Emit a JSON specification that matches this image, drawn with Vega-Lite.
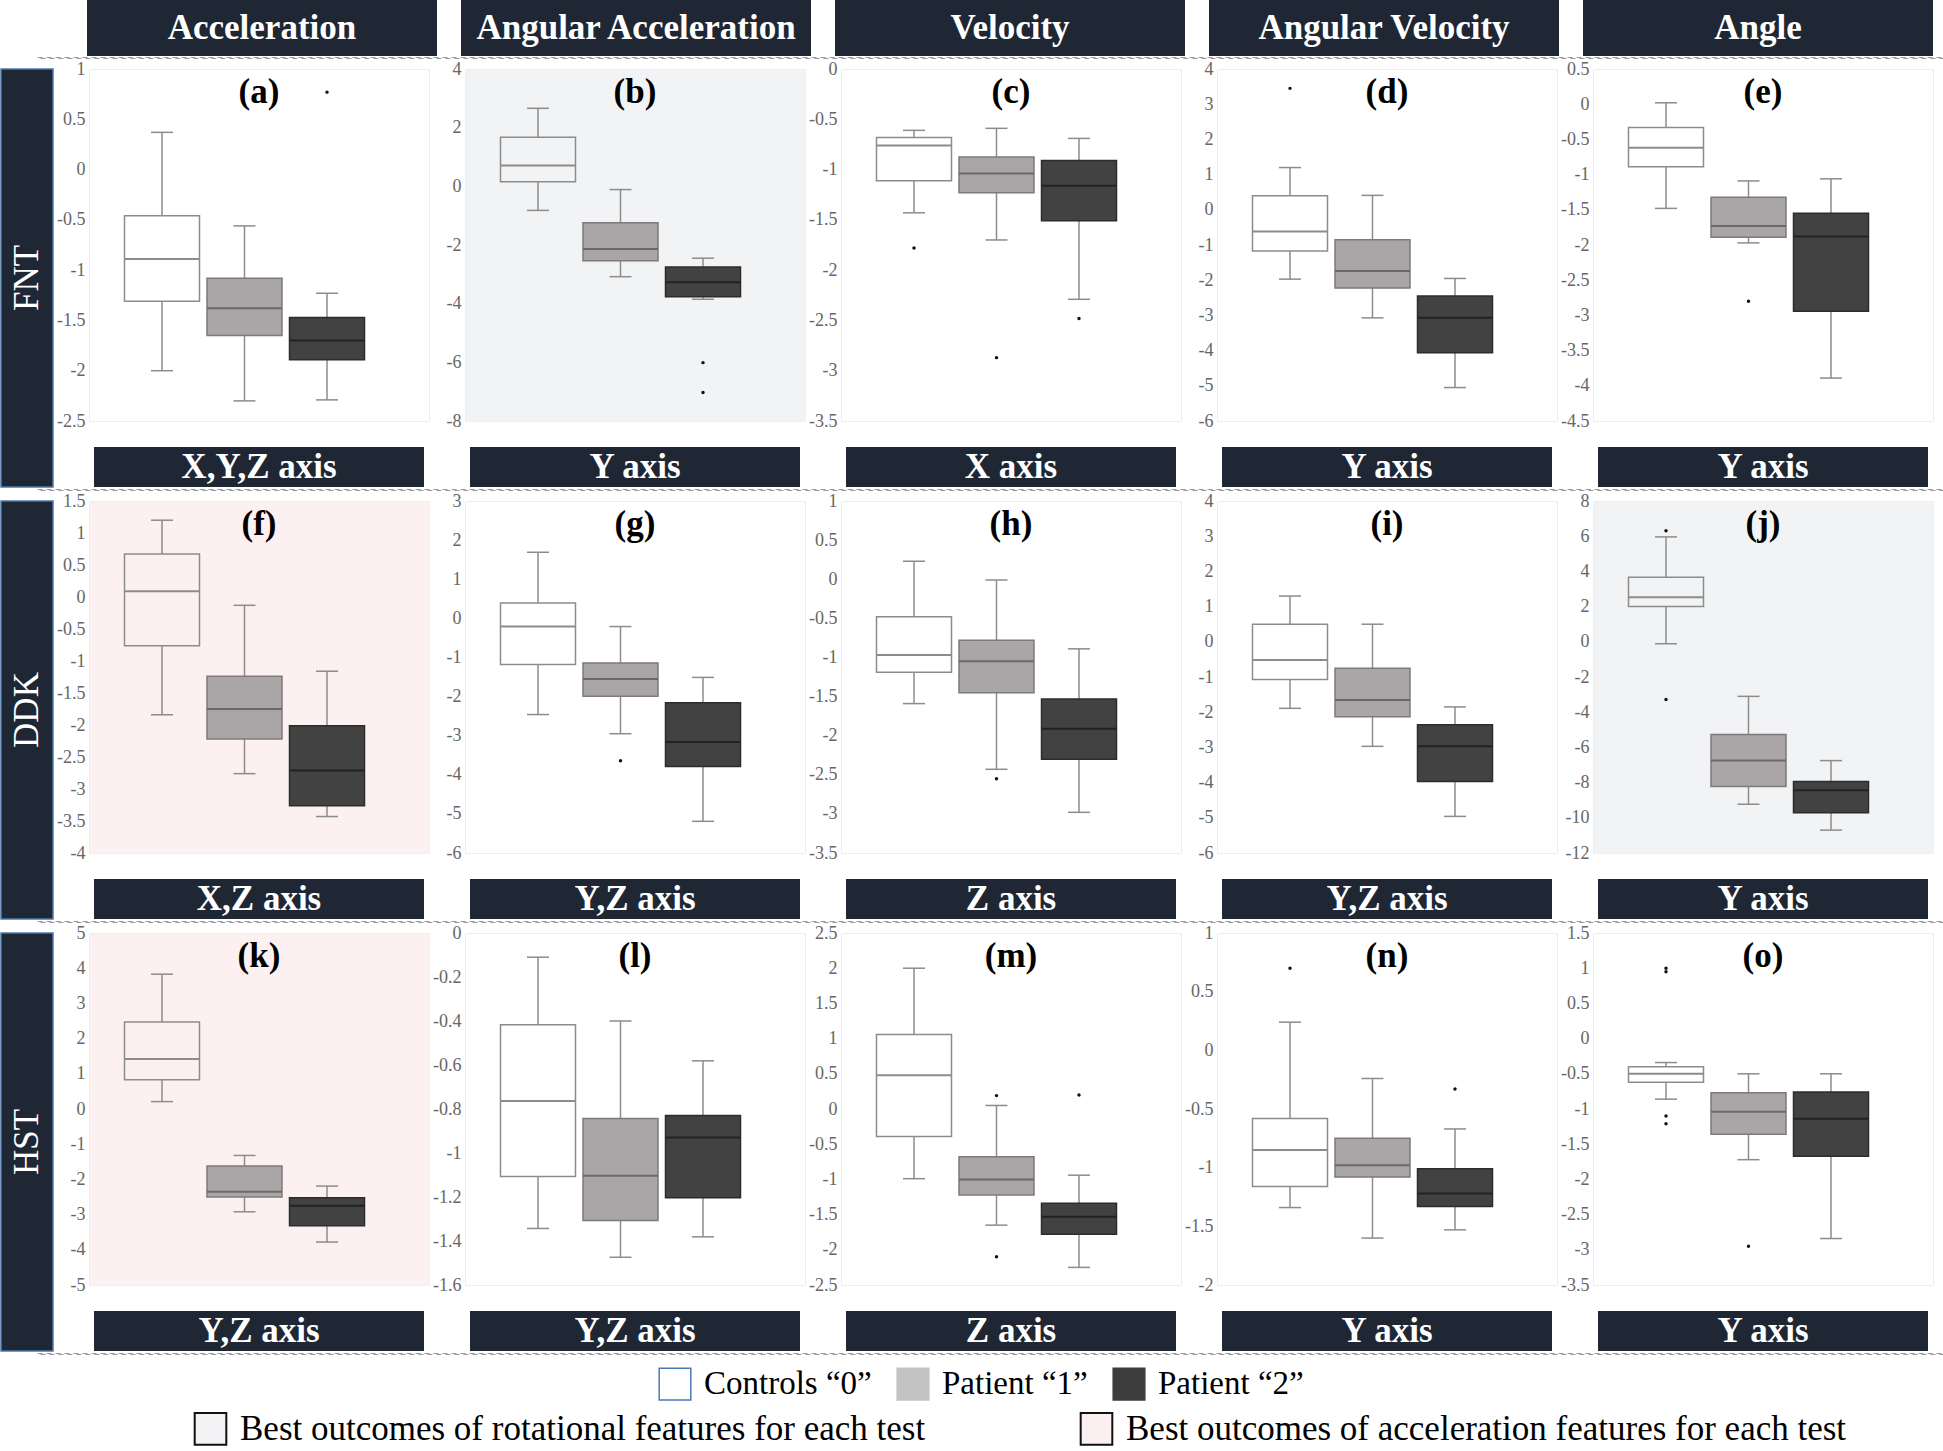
{
"$schema": "https://vega.github.io/schema/vega-lite/v6.json",
"padding": 0,
"background": "white",
"spacing": 0,
"resolve": {"scale": {"fill": "independent", "stroke": "independent", "color": "independent"}},
"config": {
 "view": {"stroke": "#eeeeee"},
 "axis": {"domain": false, "ticks": false, "grid": false, "labelFont": "Liberation Serif", "labelFontSize": 18, "labelColor": "#666666", "labelPadding": 4, "labelOverlap": false, "minExtent": 34},
 "title": {"font": "Liberation Serif", "fontSize": 35, "fontWeight": "bold", "color": "#000000", "anchor": "middle", "frame": "group", "offset": -50},
 "locale": {"number": {"decimal": ".", "thousands": ",", "grouping": [3], "currency": ["$", ""], "minus": "-"}}
},
"datasets": {
 "panels": [
  {"panel": "a", "test": "FNT", "feature": "Acceleration", "label": "X,Y,Z axis"},
  {"panel": "b", "test": "FNT", "feature": "Angular Acceleration", "label": "Y axis"},
  {"panel": "c", "test": "FNT", "feature": "Velocity", "label": "X axis"},
  {"panel": "d", "test": "FNT", "feature": "Angular Velocity", "label": "Y axis"},
  {"panel": "e", "test": "FNT", "feature": "Angle", "label": "Y axis"},
  {"panel": "f", "test": "DDK", "feature": "Acceleration", "label": "X,Z axis"},
  {"panel": "g", "test": "DDK", "feature": "Angular Acceleration", "label": "Y,Z axis"},
  {"panel": "h", "test": "DDK", "feature": "Velocity", "label": "Z axis"},
  {"panel": "i", "test": "DDK", "feature": "Angular Velocity", "label": "Y,Z axis"},
  {"panel": "j", "test": "DDK", "feature": "Angle", "label": "Y axis"},
  {"panel": "k", "test": "HST", "feature": "Acceleration", "label": "Y,Z axis"},
  {"panel": "l", "test": "HST", "feature": "Angular Acceleration", "label": "Y,Z axis"},
  {"panel": "m", "test": "HST", "feature": "Velocity", "label": "Z axis"},
  {"panel": "n", "test": "HST", "feature": "Angular Velocity", "label": "Y axis"},
  {"panel": "o", "test": "HST", "feature": "Angle", "label": "Y axis"}
 ],
 "highlights": [
  {"item": "Best outcomes of rotational features for each test"},
  {"item": "Best outcomes of acceleration features for each test"}
 ],
 "boxes": [
  {"panel": "a", "group": "Controls “0”", "min": -2.0, "q1": -1.31, "median": -0.89, "q3": -0.46, "max": 0.37},
  {"panel": "a", "group": "Patient “1”", "min": -2.3, "q1": -1.65, "median": -1.38, "q3": -1.08, "max": -0.56},
  {"panel": "a", "group": "Patient “2”", "min": -2.29, "q1": -1.89, "median": -1.7, "q3": -1.47, "max": -1.23},
  {"panel": "b", "group": "Controls “0”", "min": -0.82, "q1": 0.16, "median": 0.71, "q3": 1.67, "max": 2.66},
  {"panel": "b", "group": "Patient “1”", "min": -3.08, "q1": -2.54, "median": -2.14, "q3": -1.24, "max": -0.11},
  {"panel": "b", "group": "Patient “2”", "min": -3.85, "q1": -3.76, "median": -3.27, "q3": -2.75, "max": -2.45},
  {"panel": "c", "group": "Controls “0”", "min": -1.43, "q1": -1.11, "median": -0.76, "q3": -0.68, "max": -0.61},
  {"panel": "c", "group": "Patient “1”", "min": -1.7, "q1": -1.23, "median": -1.04, "q3": -0.875, "max": -0.59},
  {"panel": "c", "group": "Patient “2”", "min": -2.29, "q1": -1.51, "median": -1.16, "q3": -0.91, "max": -0.69},
  {"panel": "d", "group": "Controls “0”", "min": -1.97, "q1": -1.17, "median": -0.62, "q3": 0.4, "max": 1.2},
  {"panel": "d", "group": "Patient “1”", "min": -3.07, "q1": -2.22, "median": -1.74, "q3": -0.85, "max": 0.41},
  {"panel": "d", "group": "Patient “2”", "min": -5.05, "q1": -4.06, "median": -3.07, "q3": -2.45, "max": -1.95},
  {"panel": "e", "group": "Controls “0”", "min": -1.48, "q1": -0.89, "median": -0.62, "q3": -0.33, "max": 0.02},
  {"panel": "e", "group": "Patient “1”", "min": -1.97, "q1": -1.89, "median": -1.73, "q3": -1.32, "max": -1.09},
  {"panel": "e", "group": "Patient “2”", "min": -3.89, "q1": -2.94, "median": -1.88, "q3": -1.55, "max": -1.06},
  {"panel": "f", "group": "Controls “0”", "min": -1.84, "q1": -0.76, "median": 0.09, "q3": 0.67, "max": 1.2},
  {"panel": "f", "group": "Patient “1”", "min": -2.76, "q1": -2.22, "median": -1.75, "q3": -1.24, "max": -0.13},
  {"panel": "f", "group": "Patient “2”", "min": -3.43, "q1": -3.26, "median": -2.71, "q3": -2.01, "max": -1.16},
  {"panel": "g", "group": "Controls “0”", "min": -2.46, "q1": -1.18, "median": -0.21, "q3": 0.39, "max": 1.69},
  {"panel": "g", "group": "Patient “1”", "min": -2.95, "q1": -1.99, "median": -1.55, "q3": -1.14, "max": -0.21},
  {"panel": "g", "group": "Patient “2”", "min": -5.19, "q1": -3.79, "median": -3.16, "q3": -2.16, "max": -1.51},
  {"panel": "h", "group": "Controls “0”", "min": -1.59, "q1": -1.19, "median": -0.97, "q3": -0.48, "max": 0.23},
  {"panel": "h", "group": "Patient “1”", "min": -2.43, "q1": -1.45, "median": -1.05, "q3": -0.78, "max": -0.01},
  {"panel": "h", "group": "Patient “2”", "min": -2.98, "q1": -2.3, "median": -1.91, "q3": -1.53, "max": -0.89},
  {"panel": "i", "group": "Controls “0”", "min": -1.89, "q1": -1.07, "median": -0.52, "q3": 0.5, "max": 1.3},
  {"panel": "i", "group": "Patient “1”", "min": -2.97, "q1": -2.13, "median": -1.65, "q3": -0.75, "max": 0.5},
  {"panel": "i", "group": "Patient “2”", "min": -4.96, "q1": -3.97, "median": -2.97, "q3": -2.36, "max": -1.85},
  {"panel": "j", "group": "Controls “0”", "min": -0.11, "q1": 2.0, "median": 2.53, "q3": 3.67, "max": 5.96},
  {"panel": "j", "group": "Patient “1”", "min": -9.23, "q1": -8.22, "median": -6.75, "q3": -5.27, "max": -3.1},
  {"panel": "j", "group": "Patient “2”", "min": -10.7, "q1": -9.72, "median": -8.44, "q3": -7.94, "max": -6.75},
  {"panel": "k", "group": "Controls “0”", "min": 0.21, "q1": 0.83, "median": 1.42, "q3": 2.47, "max": 3.83},
  {"panel": "k", "group": "Patient “1”", "min": -2.92, "q1": -2.5, "median": -2.35, "q3": -1.62, "max": -1.32},
  {"panel": "k", "group": "Patient “2”", "min": -3.78, "q1": -3.32, "median": -2.75, "q3": -2.52, "max": -2.19},
  {"panel": "l", "group": "Controls “0”", "min": -1.343, "q1": -1.107, "median": -0.764, "q3": -0.417, "max": -0.11},
  {"panel": "l", "group": "Patient “1”", "min": -1.474, "q1": -1.307, "median": -1.103, "q3": -0.843, "max": -0.4},
  {"panel": "l", "group": "Patient “2”", "min": -1.381, "q1": -1.203, "median": -0.929, "q3": -0.829, "max": -0.581},
  {"panel": "m", "group": "Controls “0”", "min": -0.99, "q1": -0.39, "median": 0.48, "q3": 1.06, "max": 2.0},
  {"panel": "m", "group": "Patient “1”", "min": -1.65, "q1": -1.22, "median": -1.0, "q3": -0.68, "max": 0.05},
  {"panel": "m", "group": "Patient “2”", "min": -2.25, "q1": -1.78, "median": -1.53, "q3": -1.34, "max": -0.94},
  {"panel": "n", "group": "Controls “0”", "min": -1.34, "q1": -1.16, "median": -0.85, "q3": -0.58, "max": 0.24},
  {"panel": "n", "group": "Patient “1”", "min": -1.6, "q1": -1.08, "median": -0.98, "q3": -0.75, "max": -0.24},
  {"panel": "n", "group": "Patient “2”", "min": -1.53, "q1": -1.33, "median": -1.22, "q3": -1.01, "max": -0.67},
  {"panel": "o", "group": "Controls “0”", "min": -0.86, "q1": -0.62, "median": -0.5, "q3": -0.4, "max": -0.34},
  {"panel": "o", "group": "Patient “1”", "min": -1.72, "q1": -1.36, "median": -1.04, "q3": -0.77, "max": -0.5},
  {"panel": "o", "group": "Patient “2”", "min": -2.84, "q1": -1.67, "median": -1.14, "q3": -0.76, "max": -0.5}
 ],
 "outliers": [
  {"panel": "a", "group": "Patient “2”", "value": 0.77},
  {"panel": "b", "group": "Patient “2”", "value": -6.01},
  {"panel": "b", "group": "Patient “2”", "value": -7.03},
  {"panel": "c", "group": "Controls “0”", "value": -1.78},
  {"panel": "c", "group": "Patient “1”", "value": -2.87},
  {"panel": "c", "group": "Patient “2”", "value": -2.48},
  {"panel": "d", "group": "Controls “0”", "value": 3.45},
  {"panel": "e", "group": "Patient “1”", "value": -2.8},
  {"panel": "g", "group": "Patient “1”", "value": -3.64},
  {"panel": "h", "group": "Patient “1”", "value": -2.55},
  {"panel": "j", "group": "Controls “0”", "value": 6.31},
  {"panel": "j", "group": "Controls “0”", "value": -3.28},
  {"panel": "m", "group": "Patient “1”", "value": 0.19},
  {"panel": "m", "group": "Patient “1”", "value": -2.1},
  {"panel": "m", "group": "Patient “2”", "value": 0.2},
  {"panel": "n", "group": "Controls “0”", "value": 0.7},
  {"panel": "n", "group": "Patient “2”", "value": -0.33},
  {"panel": "o", "group": "Controls “0”", "value": 1.0},
  {"panel": "o", "group": "Controls “0”", "value": 0.95},
  {"panel": "o", "group": "Controls “0”", "value": -1.1},
  {"panel": "o", "group": "Controls “0”", "value": -1.21},
  {"panel": "o", "group": "Patient “1”", "value": -2.95}
 ]
},
"vconcat": [
 {"hconcat": [
   {"width": 62, "height": 56, "view": {"stroke": null}, "data": {"values": []}, "mark": "text", "encoding": {"text": {"value": ""}}},
   {"data": {"name": "panels"}, "transform": [{"filter": "datum.test === 'FNT'"}],
    "facet": {"column": {"field": "feature", "type": "nominal", "sort": ["Acceleration", "Angular Acceleration", "Velocity", "Angular Velocity", "Angle"], "header": null, "title": null}},
    "spacing": 24,
    "spec": {"width": 350, "height": 56, "view": {"fill": "#1f2734", "stroke": null},
     "mark": {"type": "text", "font": "Liberation Serif", "fontSize": 35, "fontWeight": "bold", "color": "white"},
     "encoding": {"text": {"field": "feature"}}}}
  ], "spacing": 24},
 {"hconcat": [
   {"width": 36, "height": 1, "view": {"stroke": null}, "data": {"values": []}, "mark": "text", "encoding": {"text": {"value": ""}}},
   {"width": 1907, "height": 1, "view": {"stroke": "#9a9a9a", "strokeDash": [5, 4], "strokeWidth": 1}, "data": {"values": []}, "mark": "text", "encoding": {"text": {"value": ""}}}
  ], "spacing": 0, "bounds": "flush"},
 {"hconcat": [
   {"width": 52, "height": 418, "view": {"fill": "#1f2734", "stroke": "#4a78aa", "strokeWidth": 1.5}, "data": {"name": "panels"}, "transform": [{"filter": "datum.panel === 'a'"}], "mark": {"type": "text", "angle": 270, "font": "Liberation Serif", "fontSize": 35, "color": "white"}, "encoding": {"text": {"field": "test"}}},
   {"vconcat": [
     {"width": 340, "height": 352, "title": "(a)", "view": {"fill": "#ffffff", "stroke": "#eeeeee"},
      "data": {"name": "boxes"}, "transform": [{"filter": "datum.panel === 'a'"}],
      "resolve": {"axis": {"y": "independent"}},
      "encoding": {"x": {"field": "group", "type": "nominal", "scale": {"type": "point", "domain": ["Controls “0”", "Patient “1”", "Patient “2”"], "range": [73, 238], "padding": 0}, "axis": null}},
      "layer": [
       {"mark": {"type": "rule", "color": "#8c8c8c", "strokeWidth": 1.5}, "encoding": {"y": {"field": "min", "type": "quantitative", "scale": {"domain": [-2.5, 1], "nice": false, "zero": false}, "axis": {"values": [-2.5, -2, -1.5, -1, -0.5, 0, 0.5, 1], "format": "~g", "title": null, "labelOverlap": false}}, "y2": {"field": "q1"}}},
       {"mark": {"type": "rule", "color": "#8c8c8c", "strokeWidth": 1.5}, "encoding": {"y": {"field": "q3", "type": "quantitative", "axis": null}, "y2": {"field": "max"}}},
       {"mark": {"type": "tick", "orient": "horizontal", "size": 22, "thickness": 1.5, "color": "#8c8c8c", "opacity": 1}, "encoding": {"y": {"field": "min", "type": "quantitative", "axis": null}}},
       {"mark": {"type": "tick", "orient": "horizontal", "size": 22, "thickness": 1.5, "color": "#8c8c8c", "opacity": 1}, "encoding": {"y": {"field": "max", "type": "quantitative", "axis": null}}},
       {"mark": {"type": "bar", "size": 75, "strokeWidth": 1.5}, "encoding": {"y": {"field": "q1", "type": "quantitative", "axis": null}, "y2": {"field": "q3"}, "fill": {"field": "group", "type": "nominal", "scale": {"domain": ["Controls “0”", "Patient “1”", "Patient “2”"], "range": ["transparent", "#aaa6a7", "#424242"]}, "legend": null}, "stroke": {"field": "group", "type": "nominal", "scale": {"domain": ["Controls “0”", "Patient “1”", "Patient “2”"], "range": ["#8c8c8c", "#7d7a7b", "#2c2c2c"]}, "legend": null}}},
       {"mark": {"type": "tick", "orient": "horizontal", "size": 75, "thickness": 2, "opacity": 1}, "encoding": {"y": {"field": "median", "type": "quantitative", "axis": null}, "color": {"field": "group", "type": "nominal", "scale": {"domain": ["Controls “0”", "Patient “1”", "Patient “2”"], "range": ["#8c8c8c", "#6b6869", "#222222"]}, "legend": null}}},
       {"data": {"name": "outliers"}, "transform": [{"filter": "datum.panel === 'a'"}], "mark": {"type": "circle", "size": 12, "color": "#111111", "opacity": 1}, "encoding": {"y": {"field": "value", "type": "quantitative", "axis": null}}}
      ]},
     {"width": 330, "height": 40, "view": {"fill": "#1f2734", "stroke": null}, "data": {"name": "panels"}, "transform": [{"filter": "datum.panel === 'a'"}], "mark": {"type": "text", "font": "Liberation Serif", "fontSize": 35, "fontWeight": "bold", "color": "white"}, "encoding": {"text": {"field": "label"}}}
    ], "spacing": 26, "bounds": "flush", "center": true},
   {"vconcat": [
     {"width": 340, "height": 352, "title": "(b)", "view": {"fill": "#f2f3f5", "stroke": "#eeeeee"},
      "data": {"name": "boxes"}, "transform": [{"filter": "datum.panel === 'b'"}],
      "resolve": {"axis": {"y": "independent"}},
      "encoding": {"x": {"field": "group", "type": "nominal", "scale": {"type": "point", "domain": ["Controls “0”", "Patient “1”", "Patient “2”"], "range": [73, 238], "padding": 0}, "axis": null}},
      "layer": [
       {"mark": {"type": "rule", "color": "#8c8c8c", "strokeWidth": 1.5}, "encoding": {"y": {"field": "min", "type": "quantitative", "scale": {"domain": [-8, 4], "nice": false, "zero": false}, "axis": {"values": [-8, -6, -4, -2, 0, 2, 4], "format": "~g", "title": null, "labelOverlap": false}}, "y2": {"field": "q1"}}},
       {"mark": {"type": "rule", "color": "#8c8c8c", "strokeWidth": 1.5}, "encoding": {"y": {"field": "q3", "type": "quantitative", "axis": null}, "y2": {"field": "max"}}},
       {"mark": {"type": "tick", "orient": "horizontal", "size": 22, "thickness": 1.5, "color": "#8c8c8c", "opacity": 1}, "encoding": {"y": {"field": "min", "type": "quantitative", "axis": null}}},
       {"mark": {"type": "tick", "orient": "horizontal", "size": 22, "thickness": 1.5, "color": "#8c8c8c", "opacity": 1}, "encoding": {"y": {"field": "max", "type": "quantitative", "axis": null}}},
       {"mark": {"type": "bar", "size": 75, "strokeWidth": 1.5}, "encoding": {"y": {"field": "q1", "type": "quantitative", "axis": null}, "y2": {"field": "q3"}, "fill": {"field": "group", "type": "nominal", "scale": {"domain": ["Controls “0”", "Patient “1”", "Patient “2”"], "range": ["transparent", "#aaa6a7", "#424242"]}, "legend": null}, "stroke": {"field": "group", "type": "nominal", "scale": {"domain": ["Controls “0”", "Patient “1”", "Patient “2”"], "range": ["#8c8c8c", "#7d7a7b", "#2c2c2c"]}, "legend": null}}},
       {"mark": {"type": "tick", "orient": "horizontal", "size": 75, "thickness": 2, "opacity": 1}, "encoding": {"y": {"field": "median", "type": "quantitative", "axis": null}, "color": {"field": "group", "type": "nominal", "scale": {"domain": ["Controls “0”", "Patient “1”", "Patient “2”"], "range": ["#8c8c8c", "#6b6869", "#222222"]}, "legend": null}}},
       {"data": {"name": "outliers"}, "transform": [{"filter": "datum.panel === 'b'"}], "mark": {"type": "circle", "size": 12, "color": "#111111", "opacity": 1}, "encoding": {"y": {"field": "value", "type": "quantitative", "axis": null}}}
      ]},
     {"width": 330, "height": 40, "view": {"fill": "#1f2734", "stroke": null}, "data": {"name": "panels"}, "transform": [{"filter": "datum.panel === 'b'"}], "mark": {"type": "text", "font": "Liberation Serif", "fontSize": 35, "fontWeight": "bold", "color": "white"}, "encoding": {"text": {"field": "label"}}}
    ], "spacing": 26, "bounds": "flush", "center": true},
   {"vconcat": [
     {"width": 340, "height": 352, "title": "(c)", "view": {"fill": "#ffffff", "stroke": "#eeeeee"},
      "data": {"name": "boxes"}, "transform": [{"filter": "datum.panel === 'c'"}],
      "resolve": {"axis": {"y": "independent"}},
      "encoding": {"x": {"field": "group", "type": "nominal", "scale": {"type": "point", "domain": ["Controls “0”", "Patient “1”", "Patient “2”"], "range": [73, 238], "padding": 0}, "axis": null}},
      "layer": [
       {"mark": {"type": "rule", "color": "#8c8c8c", "strokeWidth": 1.5}, "encoding": {"y": {"field": "min", "type": "quantitative", "scale": {"domain": [-3.5, 0], "nice": false, "zero": false}, "axis": {"values": [-3.5, -3, -2.5, -2, -1.5, -1, -0.5, 0], "format": "~g", "title": null, "labelOverlap": false}}, "y2": {"field": "q1"}}},
       {"mark": {"type": "rule", "color": "#8c8c8c", "strokeWidth": 1.5}, "encoding": {"y": {"field": "q3", "type": "quantitative", "axis": null}, "y2": {"field": "max"}}},
       {"mark": {"type": "tick", "orient": "horizontal", "size": 22, "thickness": 1.5, "color": "#8c8c8c", "opacity": 1}, "encoding": {"y": {"field": "min", "type": "quantitative", "axis": null}}},
       {"mark": {"type": "tick", "orient": "horizontal", "size": 22, "thickness": 1.5, "color": "#8c8c8c", "opacity": 1}, "encoding": {"y": {"field": "max", "type": "quantitative", "axis": null}}},
       {"mark": {"type": "bar", "size": 75, "strokeWidth": 1.5}, "encoding": {"y": {"field": "q1", "type": "quantitative", "axis": null}, "y2": {"field": "q3"}, "fill": {"field": "group", "type": "nominal", "scale": {"domain": ["Controls “0”", "Patient “1”", "Patient “2”"], "range": ["transparent", "#aaa6a7", "#424242"]}, "legend": null}, "stroke": {"field": "group", "type": "nominal", "scale": {"domain": ["Controls “0”", "Patient “1”", "Patient “2”"], "range": ["#8c8c8c", "#7d7a7b", "#2c2c2c"]}, "legend": null}}},
       {"mark": {"type": "tick", "orient": "horizontal", "size": 75, "thickness": 2, "opacity": 1}, "encoding": {"y": {"field": "median", "type": "quantitative", "axis": null}, "color": {"field": "group", "type": "nominal", "scale": {"domain": ["Controls “0”", "Patient “1”", "Patient “2”"], "range": ["#8c8c8c", "#6b6869", "#222222"]}, "legend": null}}},
       {"data": {"name": "outliers"}, "transform": [{"filter": "datum.panel === 'c'"}], "mark": {"type": "circle", "size": 12, "color": "#111111", "opacity": 1}, "encoding": {"y": {"field": "value", "type": "quantitative", "axis": null}}}
      ]},
     {"width": 330, "height": 40, "view": {"fill": "#1f2734", "stroke": null}, "data": {"name": "panels"}, "transform": [{"filter": "datum.panel === 'c'"}], "mark": {"type": "text", "font": "Liberation Serif", "fontSize": 35, "fontWeight": "bold", "color": "white"}, "encoding": {"text": {"field": "label"}}}
    ], "spacing": 26, "bounds": "flush", "center": true},
   {"vconcat": [
     {"width": 340, "height": 352, "title": "(d)", "view": {"fill": "#ffffff", "stroke": "#eeeeee"},
      "data": {"name": "boxes"}, "transform": [{"filter": "datum.panel === 'd'"}],
      "resolve": {"axis": {"y": "independent"}},
      "encoding": {"x": {"field": "group", "type": "nominal", "scale": {"type": "point", "domain": ["Controls “0”", "Patient “1”", "Patient “2”"], "range": [73, 238], "padding": 0}, "axis": null}},
      "layer": [
       {"mark": {"type": "rule", "color": "#8c8c8c", "strokeWidth": 1.5}, "encoding": {"y": {"field": "min", "type": "quantitative", "scale": {"domain": [-6, 4], "nice": false, "zero": false}, "axis": {"values": [-6, -5, -4, -3, -2, -1, 0, 1, 2, 3, 4], "format": "~g", "title": null, "labelOverlap": false}}, "y2": {"field": "q1"}}},
       {"mark": {"type": "rule", "color": "#8c8c8c", "strokeWidth": 1.5}, "encoding": {"y": {"field": "q3", "type": "quantitative", "axis": null}, "y2": {"field": "max"}}},
       {"mark": {"type": "tick", "orient": "horizontal", "size": 22, "thickness": 1.5, "color": "#8c8c8c", "opacity": 1}, "encoding": {"y": {"field": "min", "type": "quantitative", "axis": null}}},
       {"mark": {"type": "tick", "orient": "horizontal", "size": 22, "thickness": 1.5, "color": "#8c8c8c", "opacity": 1}, "encoding": {"y": {"field": "max", "type": "quantitative", "axis": null}}},
       {"mark": {"type": "bar", "size": 75, "strokeWidth": 1.5}, "encoding": {"y": {"field": "q1", "type": "quantitative", "axis": null}, "y2": {"field": "q3"}, "fill": {"field": "group", "type": "nominal", "scale": {"domain": ["Controls “0”", "Patient “1”", "Patient “2”"], "range": ["transparent", "#aaa6a7", "#424242"]}, "legend": null}, "stroke": {"field": "group", "type": "nominal", "scale": {"domain": ["Controls “0”", "Patient “1”", "Patient “2”"], "range": ["#8c8c8c", "#7d7a7b", "#2c2c2c"]}, "legend": null}}},
       {"mark": {"type": "tick", "orient": "horizontal", "size": 75, "thickness": 2, "opacity": 1}, "encoding": {"y": {"field": "median", "type": "quantitative", "axis": null}, "color": {"field": "group", "type": "nominal", "scale": {"domain": ["Controls “0”", "Patient “1”", "Patient “2”"], "range": ["#8c8c8c", "#6b6869", "#222222"]}, "legend": null}}},
       {"data": {"name": "outliers"}, "transform": [{"filter": "datum.panel === 'd'"}], "mark": {"type": "circle", "size": 12, "color": "#111111", "opacity": 1}, "encoding": {"y": {"field": "value", "type": "quantitative", "axis": null}}}
      ]},
     {"width": 330, "height": 40, "view": {"fill": "#1f2734", "stroke": null}, "data": {"name": "panels"}, "transform": [{"filter": "datum.panel === 'd'"}], "mark": {"type": "text", "font": "Liberation Serif", "fontSize": 35, "fontWeight": "bold", "color": "white"}, "encoding": {"text": {"field": "label"}}}
    ], "spacing": 26, "bounds": "flush", "center": true},
   {"vconcat": [
     {"width": 340, "height": 352, "title": "(e)", "view": {"fill": "#ffffff", "stroke": "#eeeeee"},
      "data": {"name": "boxes"}, "transform": [{"filter": "datum.panel === 'e'"}],
      "resolve": {"axis": {"y": "independent"}},
      "encoding": {"x": {"field": "group", "type": "nominal", "scale": {"type": "point", "domain": ["Controls “0”", "Patient “1”", "Patient “2”"], "range": [73, 238], "padding": 0}, "axis": null}},
      "layer": [
       {"mark": {"type": "rule", "color": "#8c8c8c", "strokeWidth": 1.5}, "encoding": {"y": {"field": "min", "type": "quantitative", "scale": {"domain": [-4.5, 0.5], "nice": false, "zero": false}, "axis": {"values": [-4.5, -4, -3.5, -3, -2.5, -2, -1.5, -1, -0.5, 0, 0.5], "format": "~g", "title": null, "labelOverlap": false}}, "y2": {"field": "q1"}}},
       {"mark": {"type": "rule", "color": "#8c8c8c", "strokeWidth": 1.5}, "encoding": {"y": {"field": "q3", "type": "quantitative", "axis": null}, "y2": {"field": "max"}}},
       {"mark": {"type": "tick", "orient": "horizontal", "size": 22, "thickness": 1.5, "color": "#8c8c8c", "opacity": 1}, "encoding": {"y": {"field": "min", "type": "quantitative", "axis": null}}},
       {"mark": {"type": "tick", "orient": "horizontal", "size": 22, "thickness": 1.5, "color": "#8c8c8c", "opacity": 1}, "encoding": {"y": {"field": "max", "type": "quantitative", "axis": null}}},
       {"mark": {"type": "bar", "size": 75, "strokeWidth": 1.5}, "encoding": {"y": {"field": "q1", "type": "quantitative", "axis": null}, "y2": {"field": "q3"}, "fill": {"field": "group", "type": "nominal", "scale": {"domain": ["Controls “0”", "Patient “1”", "Patient “2”"], "range": ["transparent", "#aaa6a7", "#424242"]}, "legend": null}, "stroke": {"field": "group", "type": "nominal", "scale": {"domain": ["Controls “0”", "Patient “1”", "Patient “2”"], "range": ["#8c8c8c", "#7d7a7b", "#2c2c2c"]}, "legend": null}}},
       {"mark": {"type": "tick", "orient": "horizontal", "size": 75, "thickness": 2, "opacity": 1}, "encoding": {"y": {"field": "median", "type": "quantitative", "axis": null}, "color": {"field": "group", "type": "nominal", "scale": {"domain": ["Controls “0”", "Patient “1”", "Patient “2”"], "range": ["#8c8c8c", "#6b6869", "#222222"]}, "legend": null}}},
       {"data": {"name": "outliers"}, "transform": [{"filter": "datum.panel === 'e'"}], "mark": {"type": "circle", "size": 12, "color": "#111111", "opacity": 1}, "encoding": {"y": {"field": "value", "type": "quantitative", "axis": null}}}
      ]},
     {"width": 330, "height": 40, "view": {"fill": "#1f2734", "stroke": null}, "data": {"name": "panels"}, "transform": [{"filter": "datum.panel === 'e'"}], "mark": {"type": "text", "font": "Liberation Serif", "fontSize": 35, "fontWeight": "bold", "color": "white"}, "encoding": {"text": {"field": "label"}}}
    ], "spacing": 26, "bounds": "flush", "center": true}
  ], "spacing": 0},
 {"hconcat": [
   {"width": 36, "height": 1, "view": {"stroke": null}, "data": {"values": []}, "mark": "text", "encoding": {"text": {"value": ""}}},
   {"width": 1907, "height": 1, "view": {"stroke": "#9a9a9a", "strokeDash": [5, 4], "strokeWidth": 1}, "data": {"values": []}, "mark": "text", "encoding": {"text": {"value": ""}}}
  ], "spacing": 0, "bounds": "flush"},
 {"hconcat": [
   {"width": 52, "height": 418, "view": {"fill": "#1f2734", "stroke": "#4a78aa", "strokeWidth": 1.5}, "data": {"name": "panels"}, "transform": [{"filter": "datum.panel === 'f'"}], "mark": {"type": "text", "angle": 270, "font": "Liberation Serif", "fontSize": 35, "color": "white"}, "encoding": {"text": {"field": "test"}}},
   {"vconcat": [
     {"width": 340, "height": 352, "title": "(f)", "view": {"fill": "#fdf0f0", "stroke": "#eeeeee"},
      "data": {"name": "boxes"}, "transform": [{"filter": "datum.panel === 'f'"}],
      "resolve": {"axis": {"y": "independent"}},
      "encoding": {"x": {"field": "group", "type": "nominal", "scale": {"type": "point", "domain": ["Controls “0”", "Patient “1”", "Patient “2”"], "range": [73, 238], "padding": 0}, "axis": null}},
      "layer": [
       {"mark": {"type": "rule", "color": "#8c8c8c", "strokeWidth": 1.5}, "encoding": {"y": {"field": "min", "type": "quantitative", "scale": {"domain": [-4, 1.5], "nice": false, "zero": false}, "axis": {"values": [-4, -3.5, -3, -2.5, -2, -1.5, -1, -0.5, 0, 0.5, 1, 1.5], "format": "~g", "title": null, "labelOverlap": false}}, "y2": {"field": "q1"}}},
       {"mark": {"type": "rule", "color": "#8c8c8c", "strokeWidth": 1.5}, "encoding": {"y": {"field": "q3", "type": "quantitative", "axis": null}, "y2": {"field": "max"}}},
       {"mark": {"type": "tick", "orient": "horizontal", "size": 22, "thickness": 1.5, "color": "#8c8c8c", "opacity": 1}, "encoding": {"y": {"field": "min", "type": "quantitative", "axis": null}}},
       {"mark": {"type": "tick", "orient": "horizontal", "size": 22, "thickness": 1.5, "color": "#8c8c8c", "opacity": 1}, "encoding": {"y": {"field": "max", "type": "quantitative", "axis": null}}},
       {"mark": {"type": "bar", "size": 75, "strokeWidth": 1.5}, "encoding": {"y": {"field": "q1", "type": "quantitative", "axis": null}, "y2": {"field": "q3"}, "fill": {"field": "group", "type": "nominal", "scale": {"domain": ["Controls “0”", "Patient “1”", "Patient “2”"], "range": ["transparent", "#aaa6a7", "#424242"]}, "legend": null}, "stroke": {"field": "group", "type": "nominal", "scale": {"domain": ["Controls “0”", "Patient “1”", "Patient “2”"], "range": ["#8c8c8c", "#7d7a7b", "#2c2c2c"]}, "legend": null}}},
       {"mark": {"type": "tick", "orient": "horizontal", "size": 75, "thickness": 2, "opacity": 1}, "encoding": {"y": {"field": "median", "type": "quantitative", "axis": null}, "color": {"field": "group", "type": "nominal", "scale": {"domain": ["Controls “0”", "Patient “1”", "Patient “2”"], "range": ["#8c8c8c", "#6b6869", "#222222"]}, "legend": null}}},
       {"data": {"name": "outliers"}, "transform": [{"filter": "datum.panel === 'f'"}], "mark": {"type": "circle", "size": 12, "color": "#111111", "opacity": 1}, "encoding": {"y": {"field": "value", "type": "quantitative", "axis": null}}}
      ]},
     {"width": 330, "height": 40, "view": {"fill": "#1f2734", "stroke": null}, "data": {"name": "panels"}, "transform": [{"filter": "datum.panel === 'f'"}], "mark": {"type": "text", "font": "Liberation Serif", "fontSize": 35, "fontWeight": "bold", "color": "white"}, "encoding": {"text": {"field": "label"}}}
    ], "spacing": 26, "bounds": "flush", "center": true},
   {"vconcat": [
     {"width": 340, "height": 352, "title": "(g)", "view": {"fill": "#ffffff", "stroke": "#eeeeee"},
      "data": {"name": "boxes"}, "transform": [{"filter": "datum.panel === 'g'"}],
      "resolve": {"axis": {"y": "independent"}},
      "encoding": {"x": {"field": "group", "type": "nominal", "scale": {"type": "point", "domain": ["Controls “0”", "Patient “1”", "Patient “2”"], "range": [73, 238], "padding": 0}, "axis": null}},
      "layer": [
       {"mark": {"type": "rule", "color": "#8c8c8c", "strokeWidth": 1.5}, "encoding": {"y": {"field": "min", "type": "quantitative", "scale": {"domain": [-6, 3], "nice": false, "zero": false}, "axis": {"values": [-6, -5, -4, -3, -2, -1, 0, 1, 2, 3], "format": "~g", "title": null, "labelOverlap": false}}, "y2": {"field": "q1"}}},
       {"mark": {"type": "rule", "color": "#8c8c8c", "strokeWidth": 1.5}, "encoding": {"y": {"field": "q3", "type": "quantitative", "axis": null}, "y2": {"field": "max"}}},
       {"mark": {"type": "tick", "orient": "horizontal", "size": 22, "thickness": 1.5, "color": "#8c8c8c", "opacity": 1}, "encoding": {"y": {"field": "min", "type": "quantitative", "axis": null}}},
       {"mark": {"type": "tick", "orient": "horizontal", "size": 22, "thickness": 1.5, "color": "#8c8c8c", "opacity": 1}, "encoding": {"y": {"field": "max", "type": "quantitative", "axis": null}}},
       {"mark": {"type": "bar", "size": 75, "strokeWidth": 1.5}, "encoding": {"y": {"field": "q1", "type": "quantitative", "axis": null}, "y2": {"field": "q3"}, "fill": {"field": "group", "type": "nominal", "scale": {"domain": ["Controls “0”", "Patient “1”", "Patient “2”"], "range": ["transparent", "#aaa6a7", "#424242"]}, "legend": null}, "stroke": {"field": "group", "type": "nominal", "scale": {"domain": ["Controls “0”", "Patient “1”", "Patient “2”"], "range": ["#8c8c8c", "#7d7a7b", "#2c2c2c"]}, "legend": null}}},
       {"mark": {"type": "tick", "orient": "horizontal", "size": 75, "thickness": 2, "opacity": 1}, "encoding": {"y": {"field": "median", "type": "quantitative", "axis": null}, "color": {"field": "group", "type": "nominal", "scale": {"domain": ["Controls “0”", "Patient “1”", "Patient “2”"], "range": ["#8c8c8c", "#6b6869", "#222222"]}, "legend": null}}},
       {"data": {"name": "outliers"}, "transform": [{"filter": "datum.panel === 'g'"}], "mark": {"type": "circle", "size": 12, "color": "#111111", "opacity": 1}, "encoding": {"y": {"field": "value", "type": "quantitative", "axis": null}}}
      ]},
     {"width": 330, "height": 40, "view": {"fill": "#1f2734", "stroke": null}, "data": {"name": "panels"}, "transform": [{"filter": "datum.panel === 'g'"}], "mark": {"type": "text", "font": "Liberation Serif", "fontSize": 35, "fontWeight": "bold", "color": "white"}, "encoding": {"text": {"field": "label"}}}
    ], "spacing": 26, "bounds": "flush", "center": true},
   {"vconcat": [
     {"width": 340, "height": 352, "title": "(h)", "view": {"fill": "#ffffff", "stroke": "#eeeeee"},
      "data": {"name": "boxes"}, "transform": [{"filter": "datum.panel === 'h'"}],
      "resolve": {"axis": {"y": "independent"}},
      "encoding": {"x": {"field": "group", "type": "nominal", "scale": {"type": "point", "domain": ["Controls “0”", "Patient “1”", "Patient “2”"], "range": [73, 238], "padding": 0}, "axis": null}},
      "layer": [
       {"mark": {"type": "rule", "color": "#8c8c8c", "strokeWidth": 1.5}, "encoding": {"y": {"field": "min", "type": "quantitative", "scale": {"domain": [-3.5, 1], "nice": false, "zero": false}, "axis": {"values": [-3.5, -3, -2.5, -2, -1.5, -1, -0.5, 0, 0.5, 1], "format": "~g", "title": null, "labelOverlap": false}}, "y2": {"field": "q1"}}},
       {"mark": {"type": "rule", "color": "#8c8c8c", "strokeWidth": 1.5}, "encoding": {"y": {"field": "q3", "type": "quantitative", "axis": null}, "y2": {"field": "max"}}},
       {"mark": {"type": "tick", "orient": "horizontal", "size": 22, "thickness": 1.5, "color": "#8c8c8c", "opacity": 1}, "encoding": {"y": {"field": "min", "type": "quantitative", "axis": null}}},
       {"mark": {"type": "tick", "orient": "horizontal", "size": 22, "thickness": 1.5, "color": "#8c8c8c", "opacity": 1}, "encoding": {"y": {"field": "max", "type": "quantitative", "axis": null}}},
       {"mark": {"type": "bar", "size": 75, "strokeWidth": 1.5}, "encoding": {"y": {"field": "q1", "type": "quantitative", "axis": null}, "y2": {"field": "q3"}, "fill": {"field": "group", "type": "nominal", "scale": {"domain": ["Controls “0”", "Patient “1”", "Patient “2”"], "range": ["transparent", "#aaa6a7", "#424242"]}, "legend": null}, "stroke": {"field": "group", "type": "nominal", "scale": {"domain": ["Controls “0”", "Patient “1”", "Patient “2”"], "range": ["#8c8c8c", "#7d7a7b", "#2c2c2c"]}, "legend": null}}},
       {"mark": {"type": "tick", "orient": "horizontal", "size": 75, "thickness": 2, "opacity": 1}, "encoding": {"y": {"field": "median", "type": "quantitative", "axis": null}, "color": {"field": "group", "type": "nominal", "scale": {"domain": ["Controls “0”", "Patient “1”", "Patient “2”"], "range": ["#8c8c8c", "#6b6869", "#222222"]}, "legend": null}}},
       {"data": {"name": "outliers"}, "transform": [{"filter": "datum.panel === 'h'"}], "mark": {"type": "circle", "size": 12, "color": "#111111", "opacity": 1}, "encoding": {"y": {"field": "value", "type": "quantitative", "axis": null}}}
      ]},
     {"width": 330, "height": 40, "view": {"fill": "#1f2734", "stroke": null}, "data": {"name": "panels"}, "transform": [{"filter": "datum.panel === 'h'"}], "mark": {"type": "text", "font": "Liberation Serif", "fontSize": 35, "fontWeight": "bold", "color": "white"}, "encoding": {"text": {"field": "label"}}}
    ], "spacing": 26, "bounds": "flush", "center": true},
   {"vconcat": [
     {"width": 340, "height": 352, "title": "(i)", "view": {"fill": "#ffffff", "stroke": "#eeeeee"},
      "data": {"name": "boxes"}, "transform": [{"filter": "datum.panel === 'i'"}],
      "resolve": {"axis": {"y": "independent"}},
      "encoding": {"x": {"field": "group", "type": "nominal", "scale": {"type": "point", "domain": ["Controls “0”", "Patient “1”", "Patient “2”"], "range": [73, 238], "padding": 0}, "axis": null}},
      "layer": [
       {"mark": {"type": "rule", "color": "#8c8c8c", "strokeWidth": 1.5}, "encoding": {"y": {"field": "min", "type": "quantitative", "scale": {"domain": [-6, 4], "nice": false, "zero": false}, "axis": {"values": [-6, -5, -4, -3, -2, -1, 0, 1, 2, 3, 4], "format": "~g", "title": null, "labelOverlap": false}}, "y2": {"field": "q1"}}},
       {"mark": {"type": "rule", "color": "#8c8c8c", "strokeWidth": 1.5}, "encoding": {"y": {"field": "q3", "type": "quantitative", "axis": null}, "y2": {"field": "max"}}},
       {"mark": {"type": "tick", "orient": "horizontal", "size": 22, "thickness": 1.5, "color": "#8c8c8c", "opacity": 1}, "encoding": {"y": {"field": "min", "type": "quantitative", "axis": null}}},
       {"mark": {"type": "tick", "orient": "horizontal", "size": 22, "thickness": 1.5, "color": "#8c8c8c", "opacity": 1}, "encoding": {"y": {"field": "max", "type": "quantitative", "axis": null}}},
       {"mark": {"type": "bar", "size": 75, "strokeWidth": 1.5}, "encoding": {"y": {"field": "q1", "type": "quantitative", "axis": null}, "y2": {"field": "q3"}, "fill": {"field": "group", "type": "nominal", "scale": {"domain": ["Controls “0”", "Patient “1”", "Patient “2”"], "range": ["transparent", "#aaa6a7", "#424242"]}, "legend": null}, "stroke": {"field": "group", "type": "nominal", "scale": {"domain": ["Controls “0”", "Patient “1”", "Patient “2”"], "range": ["#8c8c8c", "#7d7a7b", "#2c2c2c"]}, "legend": null}}},
       {"mark": {"type": "tick", "orient": "horizontal", "size": 75, "thickness": 2, "opacity": 1}, "encoding": {"y": {"field": "median", "type": "quantitative", "axis": null}, "color": {"field": "group", "type": "nominal", "scale": {"domain": ["Controls “0”", "Patient “1”", "Patient “2”"], "range": ["#8c8c8c", "#6b6869", "#222222"]}, "legend": null}}},
       {"data": {"name": "outliers"}, "transform": [{"filter": "datum.panel === 'i'"}], "mark": {"type": "circle", "size": 12, "color": "#111111", "opacity": 1}, "encoding": {"y": {"field": "value", "type": "quantitative", "axis": null}}}
      ]},
     {"width": 330, "height": 40, "view": {"fill": "#1f2734", "stroke": null}, "data": {"name": "panels"}, "transform": [{"filter": "datum.panel === 'i'"}], "mark": {"type": "text", "font": "Liberation Serif", "fontSize": 35, "fontWeight": "bold", "color": "white"}, "encoding": {"text": {"field": "label"}}}
    ], "spacing": 26, "bounds": "flush", "center": true},
   {"vconcat": [
     {"width": 340, "height": 352, "title": "(j)", "view": {"fill": "#f2f3f5", "stroke": "#eeeeee"},
      "data": {"name": "boxes"}, "transform": [{"filter": "datum.panel === 'j'"}],
      "resolve": {"axis": {"y": "independent"}},
      "encoding": {"x": {"field": "group", "type": "nominal", "scale": {"type": "point", "domain": ["Controls “0”", "Patient “1”", "Patient “2”"], "range": [73, 238], "padding": 0}, "axis": null}},
      "layer": [
       {"mark": {"type": "rule", "color": "#8c8c8c", "strokeWidth": 1.5}, "encoding": {"y": {"field": "min", "type": "quantitative", "scale": {"domain": [-12, 8], "nice": false, "zero": false}, "axis": {"values": [-12, -10, -8, -6, -4, -2, 0, 2, 4, 6, 8], "format": "~g", "title": null, "labelOverlap": false}}, "y2": {"field": "q1"}}},
       {"mark": {"type": "rule", "color": "#8c8c8c", "strokeWidth": 1.5}, "encoding": {"y": {"field": "q3", "type": "quantitative", "axis": null}, "y2": {"field": "max"}}},
       {"mark": {"type": "tick", "orient": "horizontal", "size": 22, "thickness": 1.5, "color": "#8c8c8c", "opacity": 1}, "encoding": {"y": {"field": "min", "type": "quantitative", "axis": null}}},
       {"mark": {"type": "tick", "orient": "horizontal", "size": 22, "thickness": 1.5, "color": "#8c8c8c", "opacity": 1}, "encoding": {"y": {"field": "max", "type": "quantitative", "axis": null}}},
       {"mark": {"type": "bar", "size": 75, "strokeWidth": 1.5}, "encoding": {"y": {"field": "q1", "type": "quantitative", "axis": null}, "y2": {"field": "q3"}, "fill": {"field": "group", "type": "nominal", "scale": {"domain": ["Controls “0”", "Patient “1”", "Patient “2”"], "range": ["transparent", "#aaa6a7", "#424242"]}, "legend": null}, "stroke": {"field": "group", "type": "nominal", "scale": {"domain": ["Controls “0”", "Patient “1”", "Patient “2”"], "range": ["#8c8c8c", "#7d7a7b", "#2c2c2c"]}, "legend": null}}},
       {"mark": {"type": "tick", "orient": "horizontal", "size": 75, "thickness": 2, "opacity": 1}, "encoding": {"y": {"field": "median", "type": "quantitative", "axis": null}, "color": {"field": "group", "type": "nominal", "scale": {"domain": ["Controls “0”", "Patient “1”", "Patient “2”"], "range": ["#8c8c8c", "#6b6869", "#222222"]}, "legend": null}}},
       {"data": {"name": "outliers"}, "transform": [{"filter": "datum.panel === 'j'"}], "mark": {"type": "circle", "size": 12, "color": "#111111", "opacity": 1}, "encoding": {"y": {"field": "value", "type": "quantitative", "axis": null}}}
      ]},
     {"width": 330, "height": 40, "view": {"fill": "#1f2734", "stroke": null}, "data": {"name": "panels"}, "transform": [{"filter": "datum.panel === 'j'"}], "mark": {"type": "text", "font": "Liberation Serif", "fontSize": 35, "fontWeight": "bold", "color": "white"}, "encoding": {"text": {"field": "label"}}}
    ], "spacing": 26, "bounds": "flush", "center": true}
  ], "spacing": 0},
 {"hconcat": [
   {"width": 36, "height": 1, "view": {"stroke": null}, "data": {"values": []}, "mark": "text", "encoding": {"text": {"value": ""}}},
   {"width": 1907, "height": 1, "view": {"stroke": "#9a9a9a", "strokeDash": [5, 4], "strokeWidth": 1}, "data": {"values": []}, "mark": "text", "encoding": {"text": {"value": ""}}}
  ], "spacing": 0, "bounds": "flush"},
 {"hconcat": [
   {"width": 52, "height": 418, "view": {"fill": "#1f2734", "stroke": "#4a78aa", "strokeWidth": 1.5}, "data": {"name": "panels"}, "transform": [{"filter": "datum.panel === 'k'"}], "mark": {"type": "text", "angle": 270, "font": "Liberation Serif", "fontSize": 35, "color": "white"}, "encoding": {"text": {"field": "test"}}},
   {"vconcat": [
     {"width": 340, "height": 352, "title": "(k)", "view": {"fill": "#fdf0f0", "stroke": "#eeeeee"},
      "data": {"name": "boxes"}, "transform": [{"filter": "datum.panel === 'k'"}],
      "resolve": {"axis": {"y": "independent"}},
      "encoding": {"x": {"field": "group", "type": "nominal", "scale": {"type": "point", "domain": ["Controls “0”", "Patient “1”", "Patient “2”"], "range": [73, 238], "padding": 0}, "axis": null}},
      "layer": [
       {"mark": {"type": "rule", "color": "#8c8c8c", "strokeWidth": 1.5}, "encoding": {"y": {"field": "min", "type": "quantitative", "scale": {"domain": [-5, 5], "nice": false, "zero": false}, "axis": {"values": [-5, -4, -3, -2, -1, 0, 1, 2, 3, 4, 5], "format": "~g", "title": null, "labelOverlap": false}}, "y2": {"field": "q1"}}},
       {"mark": {"type": "rule", "color": "#8c8c8c", "strokeWidth": 1.5}, "encoding": {"y": {"field": "q3", "type": "quantitative", "axis": null}, "y2": {"field": "max"}}},
       {"mark": {"type": "tick", "orient": "horizontal", "size": 22, "thickness": 1.5, "color": "#8c8c8c", "opacity": 1}, "encoding": {"y": {"field": "min", "type": "quantitative", "axis": null}}},
       {"mark": {"type": "tick", "orient": "horizontal", "size": 22, "thickness": 1.5, "color": "#8c8c8c", "opacity": 1}, "encoding": {"y": {"field": "max", "type": "quantitative", "axis": null}}},
       {"mark": {"type": "bar", "size": 75, "strokeWidth": 1.5}, "encoding": {"y": {"field": "q1", "type": "quantitative", "axis": null}, "y2": {"field": "q3"}, "fill": {"field": "group", "type": "nominal", "scale": {"domain": ["Controls “0”", "Patient “1”", "Patient “2”"], "range": ["transparent", "#aaa6a7", "#424242"]}, "legend": null}, "stroke": {"field": "group", "type": "nominal", "scale": {"domain": ["Controls “0”", "Patient “1”", "Patient “2”"], "range": ["#8c8c8c", "#7d7a7b", "#2c2c2c"]}, "legend": null}}},
       {"mark": {"type": "tick", "orient": "horizontal", "size": 75, "thickness": 2, "opacity": 1}, "encoding": {"y": {"field": "median", "type": "quantitative", "axis": null}, "color": {"field": "group", "type": "nominal", "scale": {"domain": ["Controls “0”", "Patient “1”", "Patient “2”"], "range": ["#8c8c8c", "#6b6869", "#222222"]}, "legend": null}}},
       {"data": {"name": "outliers"}, "transform": [{"filter": "datum.panel === 'k'"}], "mark": {"type": "circle", "size": 12, "color": "#111111", "opacity": 1}, "encoding": {"y": {"field": "value", "type": "quantitative", "axis": null}}}
      ]},
     {"width": 330, "height": 40, "view": {"fill": "#1f2734", "stroke": null}, "data": {"name": "panels"}, "transform": [{"filter": "datum.panel === 'k'"}], "mark": {"type": "text", "font": "Liberation Serif", "fontSize": 35, "fontWeight": "bold", "color": "white"}, "encoding": {"text": {"field": "label"}}}
    ], "spacing": 26, "bounds": "flush", "center": true},
   {"vconcat": [
     {"width": 340, "height": 352, "title": "(l)", "view": {"fill": "#ffffff", "stroke": "#eeeeee"},
      "data": {"name": "boxes"}, "transform": [{"filter": "datum.panel === 'l'"}],
      "resolve": {"axis": {"y": "independent"}},
      "encoding": {"x": {"field": "group", "type": "nominal", "scale": {"type": "point", "domain": ["Controls “0”", "Patient “1”", "Patient “2”"], "range": [73, 238], "padding": 0}, "axis": null}},
      "layer": [
       {"mark": {"type": "rule", "color": "#8c8c8c", "strokeWidth": 1.5}, "encoding": {"y": {"field": "min", "type": "quantitative", "scale": {"domain": [-1.6, 0], "nice": false, "zero": false}, "axis": {"values": [-1.6, -1.4, -1.2, -1, -0.8, -0.6, -0.4, -0.2, 0], "format": "~g", "title": null, "labelOverlap": false}}, "y2": {"field": "q1"}}},
       {"mark": {"type": "rule", "color": "#8c8c8c", "strokeWidth": 1.5}, "encoding": {"y": {"field": "q3", "type": "quantitative", "axis": null}, "y2": {"field": "max"}}},
       {"mark": {"type": "tick", "orient": "horizontal", "size": 22, "thickness": 1.5, "color": "#8c8c8c", "opacity": 1}, "encoding": {"y": {"field": "min", "type": "quantitative", "axis": null}}},
       {"mark": {"type": "tick", "orient": "horizontal", "size": 22, "thickness": 1.5, "color": "#8c8c8c", "opacity": 1}, "encoding": {"y": {"field": "max", "type": "quantitative", "axis": null}}},
       {"mark": {"type": "bar", "size": 75, "strokeWidth": 1.5}, "encoding": {"y": {"field": "q1", "type": "quantitative", "axis": null}, "y2": {"field": "q3"}, "fill": {"field": "group", "type": "nominal", "scale": {"domain": ["Controls “0”", "Patient “1”", "Patient “2”"], "range": ["transparent", "#aaa6a7", "#424242"]}, "legend": null}, "stroke": {"field": "group", "type": "nominal", "scale": {"domain": ["Controls “0”", "Patient “1”", "Patient “2”"], "range": ["#8c8c8c", "#7d7a7b", "#2c2c2c"]}, "legend": null}}},
       {"mark": {"type": "tick", "orient": "horizontal", "size": 75, "thickness": 2, "opacity": 1}, "encoding": {"y": {"field": "median", "type": "quantitative", "axis": null}, "color": {"field": "group", "type": "nominal", "scale": {"domain": ["Controls “0”", "Patient “1”", "Patient “2”"], "range": ["#8c8c8c", "#6b6869", "#222222"]}, "legend": null}}},
       {"data": {"name": "outliers"}, "transform": [{"filter": "datum.panel === 'l'"}], "mark": {"type": "circle", "size": 12, "color": "#111111", "opacity": 1}, "encoding": {"y": {"field": "value", "type": "quantitative", "axis": null}}}
      ]},
     {"width": 330, "height": 40, "view": {"fill": "#1f2734", "stroke": null}, "data": {"name": "panels"}, "transform": [{"filter": "datum.panel === 'l'"}], "mark": {"type": "text", "font": "Liberation Serif", "fontSize": 35, "fontWeight": "bold", "color": "white"}, "encoding": {"text": {"field": "label"}}}
    ], "spacing": 26, "bounds": "flush", "center": true},
   {"vconcat": [
     {"width": 340, "height": 352, "title": "(m)", "view": {"fill": "#ffffff", "stroke": "#eeeeee"},
      "data": {"name": "boxes"}, "transform": [{"filter": "datum.panel === 'm'"}],
      "resolve": {"axis": {"y": "independent"}},
      "encoding": {"x": {"field": "group", "type": "nominal", "scale": {"type": "point", "domain": ["Controls “0”", "Patient “1”", "Patient “2”"], "range": [73, 238], "padding": 0}, "axis": null}},
      "layer": [
       {"mark": {"type": "rule", "color": "#8c8c8c", "strokeWidth": 1.5}, "encoding": {"y": {"field": "min", "type": "quantitative", "scale": {"domain": [-2.5, 2.5], "nice": false, "zero": false}, "axis": {"values": [-2.5, -2, -1.5, -1, -0.5, 0, 0.5, 1, 1.5, 2, 2.5], "format": "~g", "title": null, "labelOverlap": false}}, "y2": {"field": "q1"}}},
       {"mark": {"type": "rule", "color": "#8c8c8c", "strokeWidth": 1.5}, "encoding": {"y": {"field": "q3", "type": "quantitative", "axis": null}, "y2": {"field": "max"}}},
       {"mark": {"type": "tick", "orient": "horizontal", "size": 22, "thickness": 1.5, "color": "#8c8c8c", "opacity": 1}, "encoding": {"y": {"field": "min", "type": "quantitative", "axis": null}}},
       {"mark": {"type": "tick", "orient": "horizontal", "size": 22, "thickness": 1.5, "color": "#8c8c8c", "opacity": 1}, "encoding": {"y": {"field": "max", "type": "quantitative", "axis": null}}},
       {"mark": {"type": "bar", "size": 75, "strokeWidth": 1.5}, "encoding": {"y": {"field": "q1", "type": "quantitative", "axis": null}, "y2": {"field": "q3"}, "fill": {"field": "group", "type": "nominal", "scale": {"domain": ["Controls “0”", "Patient “1”", "Patient “2”"], "range": ["transparent", "#aaa6a7", "#424242"]}, "legend": null}, "stroke": {"field": "group", "type": "nominal", "scale": {"domain": ["Controls “0”", "Patient “1”", "Patient “2”"], "range": ["#8c8c8c", "#7d7a7b", "#2c2c2c"]}, "legend": null}}},
       {"mark": {"type": "tick", "orient": "horizontal", "size": 75, "thickness": 2, "opacity": 1}, "encoding": {"y": {"field": "median", "type": "quantitative", "axis": null}, "color": {"field": "group", "type": "nominal", "scale": {"domain": ["Controls “0”", "Patient “1”", "Patient “2”"], "range": ["#8c8c8c", "#6b6869", "#222222"]}, "legend": null}}},
       {"data": {"name": "outliers"}, "transform": [{"filter": "datum.panel === 'm'"}], "mark": {"type": "circle", "size": 12, "color": "#111111", "opacity": 1}, "encoding": {"y": {"field": "value", "type": "quantitative", "axis": null}}}
      ]},
     {"width": 330, "height": 40, "view": {"fill": "#1f2734", "stroke": null}, "data": {"name": "panels"}, "transform": [{"filter": "datum.panel === 'm'"}], "mark": {"type": "text", "font": "Liberation Serif", "fontSize": 35, "fontWeight": "bold", "color": "white"}, "encoding": {"text": {"field": "label"}}}
    ], "spacing": 26, "bounds": "flush", "center": true},
   {"vconcat": [
     {"width": 340, "height": 352, "title": "(n)", "view": {"fill": "#ffffff", "stroke": "#eeeeee"},
      "data": {"name": "boxes"}, "transform": [{"filter": "datum.panel === 'n'"}],
      "resolve": {"axis": {"y": "independent"}},
      "encoding": {"x": {"field": "group", "type": "nominal", "scale": {"type": "point", "domain": ["Controls “0”", "Patient “1”", "Patient “2”"], "range": [73, 238], "padding": 0}, "axis": null}},
      "layer": [
       {"mark": {"type": "rule", "color": "#8c8c8c", "strokeWidth": 1.5}, "encoding": {"y": {"field": "min", "type": "quantitative", "scale": {"domain": [-2, 1], "nice": false, "zero": false}, "axis": {"values": [-2, -1.5, -1, -0.5, 0, 0.5, 1], "format": "~g", "title": null, "labelOverlap": false}}, "y2": {"field": "q1"}}},
       {"mark": {"type": "rule", "color": "#8c8c8c", "strokeWidth": 1.5}, "encoding": {"y": {"field": "q3", "type": "quantitative", "axis": null}, "y2": {"field": "max"}}},
       {"mark": {"type": "tick", "orient": "horizontal", "size": 22, "thickness": 1.5, "color": "#8c8c8c", "opacity": 1}, "encoding": {"y": {"field": "min", "type": "quantitative", "axis": null}}},
       {"mark": {"type": "tick", "orient": "horizontal", "size": 22, "thickness": 1.5, "color": "#8c8c8c", "opacity": 1}, "encoding": {"y": {"field": "max", "type": "quantitative", "axis": null}}},
       {"mark": {"type": "bar", "size": 75, "strokeWidth": 1.5}, "encoding": {"y": {"field": "q1", "type": "quantitative", "axis": null}, "y2": {"field": "q3"}, "fill": {"field": "group", "type": "nominal", "scale": {"domain": ["Controls “0”", "Patient “1”", "Patient “2”"], "range": ["transparent", "#aaa6a7", "#424242"]}, "legend": null}, "stroke": {"field": "group", "type": "nominal", "scale": {"domain": ["Controls “0”", "Patient “1”", "Patient “2”"], "range": ["#8c8c8c", "#7d7a7b", "#2c2c2c"]}, "legend": null}}},
       {"mark": {"type": "tick", "orient": "horizontal", "size": 75, "thickness": 2, "opacity": 1}, "encoding": {"y": {"field": "median", "type": "quantitative", "axis": null}, "color": {"field": "group", "type": "nominal", "scale": {"domain": ["Controls “0”", "Patient “1”", "Patient “2”"], "range": ["#8c8c8c", "#6b6869", "#222222"]}, "legend": null}}},
       {"data": {"name": "outliers"}, "transform": [{"filter": "datum.panel === 'n'"}], "mark": {"type": "circle", "size": 12, "color": "#111111", "opacity": 1}, "encoding": {"y": {"field": "value", "type": "quantitative", "axis": null}}}
      ]},
     {"width": 330, "height": 40, "view": {"fill": "#1f2734", "stroke": null}, "data": {"name": "panels"}, "transform": [{"filter": "datum.panel === 'n'"}], "mark": {"type": "text", "font": "Liberation Serif", "fontSize": 35, "fontWeight": "bold", "color": "white"}, "encoding": {"text": {"field": "label"}}}
    ], "spacing": 26, "bounds": "flush", "center": true},
   {"vconcat": [
     {"width": 340, "height": 352, "title": "(o)", "view": {"fill": "#ffffff", "stroke": "#eeeeee"},
      "data": {"name": "boxes"}, "transform": [{"filter": "datum.panel === 'o'"}],
      "resolve": {"axis": {"y": "independent"}},
      "encoding": {"x": {"field": "group", "type": "nominal", "scale": {"type": "point", "domain": ["Controls “0”", "Patient “1”", "Patient “2”"], "range": [73, 238], "padding": 0}, "axis": null}},
      "layer": [
       {"mark": {"type": "rule", "color": "#8c8c8c", "strokeWidth": 1.5}, "encoding": {"y": {"field": "min", "type": "quantitative", "scale": {"domain": [-3.5, 1.5], "nice": false, "zero": false}, "axis": {"values": [-3.5, -3, -2.5, -2, -1.5, -1, -0.5, 0, 0.5, 1, 1.5], "format": "~g", "title": null, "labelOverlap": false}}, "y2": {"field": "q1"}}},
       {"mark": {"type": "rule", "color": "#8c8c8c", "strokeWidth": 1.5}, "encoding": {"y": {"field": "q3", "type": "quantitative", "axis": null}, "y2": {"field": "max"}}},
       {"mark": {"type": "tick", "orient": "horizontal", "size": 22, "thickness": 1.5, "color": "#8c8c8c", "opacity": 1}, "encoding": {"y": {"field": "min", "type": "quantitative", "axis": null}}},
       {"mark": {"type": "tick", "orient": "horizontal", "size": 22, "thickness": 1.5, "color": "#8c8c8c", "opacity": 1}, "encoding": {"y": {"field": "max", "type": "quantitative", "axis": null}}},
       {"mark": {"type": "bar", "size": 75, "strokeWidth": 1.5}, "encoding": {"y": {"field": "q1", "type": "quantitative", "axis": null}, "y2": {"field": "q3"}, "fill": {"field": "group", "type": "nominal", "scale": {"domain": ["Controls “0”", "Patient “1”", "Patient “2”"], "range": ["transparent", "#aaa6a7", "#424242"]}, "legend": null}, "stroke": {"field": "group", "type": "nominal", "scale": {"domain": ["Controls “0”", "Patient “1”", "Patient “2”"], "range": ["#8c8c8c", "#7d7a7b", "#2c2c2c"]}, "legend": null}}},
       {"mark": {"type": "tick", "orient": "horizontal", "size": 75, "thickness": 2, "opacity": 1}, "encoding": {"y": {"field": "median", "type": "quantitative", "axis": null}, "color": {"field": "group", "type": "nominal", "scale": {"domain": ["Controls “0”", "Patient “1”", "Patient “2”"], "range": ["#8c8c8c", "#6b6869", "#222222"]}, "legend": null}}},
       {"data": {"name": "outliers"}, "transform": [{"filter": "datum.panel === 'o'"}], "mark": {"type": "circle", "size": 12, "color": "#111111", "opacity": 1}, "encoding": {"y": {"field": "value", "type": "quantitative", "axis": null}}}
      ]},
     {"width": 330, "height": 40, "view": {"fill": "#1f2734", "stroke": null}, "data": {"name": "panels"}, "transform": [{"filter": "datum.panel === 'o'"}], "mark": {"type": "text", "font": "Liberation Serif", "fontSize": 35, "fontWeight": "bold", "color": "white"}, "encoding": {"text": {"field": "label"}}}
    ], "spacing": 26, "bounds": "flush", "center": true}
  ], "spacing": 0},
 {"hconcat": [
   {"width": 36, "height": 1, "view": {"stroke": null}, "data": {"values": []}, "mark": "text", "encoding": {"text": {"value": ""}}},
   {"width": 1907, "height": 1, "view": {"stroke": "#9a9a9a", "strokeDash": [5, 4], "strokeWidth": 1}, "data": {"values": []}, "mark": "text", "encoding": {"text": {"value": ""}}}
  ], "spacing": 0, "bounds": "flush"},
 {"vconcat": [
   {"width": 1943, "height": 46, "view": {"stroke": null}, "data": {"name": "boxes"},
    "mark": {"type": "square", "size": 0, "opacity": 1},
    "encoding": {
     "fill": {"field": "group", "type": "nominal", "scale": {"domain": ["Controls “0”", "Patient “1”", "Patient “2”"], "range": ["#ffffff", "#c3c3c3", "#3d3d3d"]},
      "legend": {"orient": "none", "legendX": 657, "legendY": 12, "direction": "horizontal", "title": null, "symbolType": "square", "symbolSize": 1000, "symbolStrokeWidth": 1.5, "labelFont": "Liberation Serif", "labelFontSize": 33, "labelColor": "#000000", "labelLimit": 1000, "labelOffset": 12, "columnPadding": 22}},
     "stroke": {"field": "group", "type": "nominal", "scale": {"domain": ["Controls “0”", "Patient “1”", "Patient “2”"], "range": ["#4a7ab5", "#c3c3c3", "#3d3d3d"]},
      "legend": {"orient": "none", "legendX": 657, "legendY": 12, "direction": "horizontal", "title": null, "symbolType": "square", "symbolSize": 1000, "symbolStrokeWidth": 1.5, "labelFont": "Liberation Serif", "labelFontSize": 33, "labelColor": "#000000", "labelLimit": 1000, "labelOffset": 12, "columnPadding": 22}}
    }},
   {"width": 1943, "height": 61, "view": {"stroke": null}, "data": {"name": "highlights"},
    "mark": {"type": "square", "size": 0, "opacity": 1},
    "encoding": {
     "fill": {"field": "item", "type": "nominal", "scale": {"domain": ["Best outcomes of rotational features for each test", "Best outcomes of acceleration features for each test"], "range": ["#f3f3f5", "#fcefef"]},
      "legend": {"orient": "none", "legendX": 192, "legendY": 10, "direction": "horizontal", "title": null, "symbolType": "square", "symbolSize": 1000, "symbolStrokeWidth": 2, "labelFont": "Liberation Serif", "labelFontSize": 35, "labelColor": "#000000", "labelLimit": 1000, "labelOffset": 12, "columnPadding": 150}},
     "stroke": {"field": "item", "type": "nominal", "scale": {"domain": ["Best outcomes of rotational features for each test", "Best outcomes of acceleration features for each test"], "range": ["#111111", "#111111"]},
      "legend": {"orient": "none", "legendX": 192, "legendY": 10, "direction": "horizontal", "title": null, "symbolType": "square", "symbolSize": 1000, "symbolStrokeWidth": 2, "labelFont": "Liberation Serif", "labelFontSize": 35, "labelColor": "#000000", "labelLimit": 1000, "labelOffset": 12, "columnPadding": 150}}
    }}
  ], "spacing": 0, "bounds": "flush", "resolve": {"scale": {"fill": "independent", "stroke": "independent"}}}
]
}
